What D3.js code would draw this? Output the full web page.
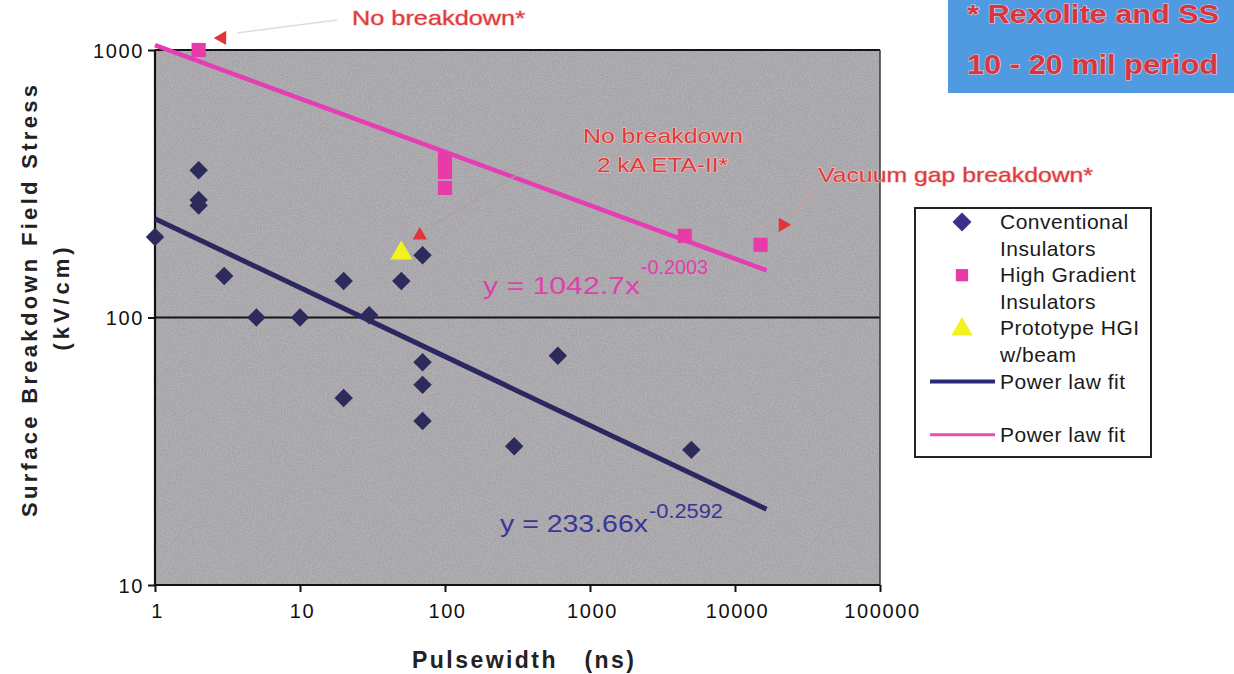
<!DOCTYPE html>
<html>
<head>
<meta charset="utf-8">
<script src="https://cdn.jsdelivr.net/npm/d3@7"></script>
<style>
  body { margin: 0; background: #fff; }
  svg { display: block; font-family: "Liberation Sans", Arial, sans-serif; }
  .tick text { font-size: 20px; letter-spacing: 1.6px; fill: #111; }
  .red { fill: #e03a3c; paint-order: stroke; stroke: #f3c8c8; stroke-width: 1.2px; }
</style>
</head>
<body>
<svg width="1234" height="674"></svg>
<script>
// conventional insulators (diamonds)
var convX = [1, 2, 2, 2, 3, 5, 10, 20, 20, 30, 50, 70, 70, 70, 70, 300, 600, 5000];
var convY = [200, 355, 275, 262, 143, 100, 100, 137, 50, 102, 137, 171, 68, 56, 41, 33, 72, 32];
// high gradient insulators (squares)
var hgX = [2, 100, 100, 100, 4500, 15000];
var hgY = [1000, 390, 350, 305, 202, 187];
// prototype HGI with beam (triangle)
var protoX = [50];
var protoY = [174];
// power law fits, end points
var fitX = [1, 16500];
var fitConvY = [234, 19.2];
var fitHgY = [1043, 150];
// red annotation arrow heads [x, y, rotation]
var arrows = [[2.9, 1110, -90], [67, 203, 0], [21400, 222, 90]];

var xTicks = [1, 10, 100, 1000, 10000, 100000];
var yTicks = [10, 100, 1000];

var svg = d3.select("svg");

var x = d3.scaleLog().domain([1, 100000]).range([155, 880]);
var y = d3.scaleLog().domain([10, 1000]).range([585, 50]);

// grain for the scanned grey background
var defs = svg.append("defs");
var f = defs.append("filter").attr("id", "grain").attr("x", 0).attr("y", 0).attr("width", 1).attr("height", 1);
f.append("feTurbulence").attr("type", "fractalNoise").attr("baseFrequency", "0.8 0.6").attr("numOctaves", 2).attr("seed", 4);
f.append("feColorMatrix").attr("type", "matrix")
  .attr("values", "0 0 0 0 0.64  0 0 0 0 0.63  0 0 0 0 0.65  0 0 0 -1.1 1.05");

// plot area
svg.append("rect")
  .attr("x", x.range()[0]).attr("y", y.range()[1])
  .attr("width", x.range()[1] - x.range()[0]).attr("height", y.range()[0] - y.range()[1])
  .attr("fill", "#9d9b9f");
svg.append("rect")
  .attr("x", x.range()[0]).attr("y", y.range()[1])
  .attr("width", x.range()[1] - x.range()[0]).attr("height", y.range()[0] - y.range()[1])
  .attr("filter", "url(#grain)").attr("opacity", 0.55);

// grid lines + border
svg.append("g").selectAll("line")
  .data(yTicks)
  .enter().append("line")
    .attr("x1", x.range()[0]).attr("x2", x.range()[1])
    .attr("y1", function(d) { return y(d); }).attr("y2", function(d) { return y(d); })
    .attr("stroke", "#141414").attr("stroke-width", 2);
svg.append("line")
  .attr("x1", x.range()[1]).attr("x2", x.range()[1])
  .attr("y1", y.range()[1]).attr("y2", y.range()[0])
  .attr("stroke", "#3a3a3a").attr("stroke-width", 1.5);

// axes
var yAxis = svg.append("g")
  .attr("transform", "translate(" + x.range()[0] + ",0)")
  .call(d3.axisLeft(y).tickValues(yTicks).tickFormat(d3.format("d")).tickSize(7).tickPadding(4));
var xAxis = svg.append("g")
  .attr("transform", "translate(0," + y.range()[0] + ")")
  .call(d3.axisBottom(x).tickValues(xTicks).tickFormat(d3.format("d")).tickSize(7).tickPadding(12));
svg.selectAll(".domain").attr("stroke", "#111").attr("stroke-width", 2.2);
svg.selectAll(".tick line").attr("stroke", "#111").attr("stroke-width", 2);
yAxis.selectAll(".domain").attr("d", "M0," + y.range()[0] + "V" + y.range()[1]);
xAxis.selectAll(".domain").attr("d", "M" + x.range()[0] + ",0H" + x.range()[1]);
yAxis.selectAll(".tick text").attr("dy", "0.36em");
xAxis.selectAll(".tick text").attr("dx", "0.1em");

// fit lines
var line = d3.line()
  .x(function(d) { return x(d[0]); })
  .y(function(d) { return y(d[1]); });
svg.append("path")
  .datum(d3.zip(fitX, fitHgY))
  .attr("d", line).attr("fill", "none")
  .attr("stroke", "#e63cb4").attr("stroke-width", 4.5);
svg.append("path")
  .datum(d3.zip(fitX, fitConvY))
  .attr("d", line).attr("fill", "none")
  .attr("stroke", "#2b2760").attr("stroke-width", 5);

// markers
var diamond = d3.symbol().type(d3.symbolSquare).size(170);
var square = d3.symbol().type(d3.symbolSquare).size(200);
var tri = d3.symbol().type(d3.symbolTriangle).size(210);

svg.append("g").selectAll("path")
  .data(d3.zip(hgX, hgY))
  .enter().append("path")
    .attr("d", square)
    .attr("transform", function(d) { return "translate(" + x(d[0]) + "," + y(d[1]) + ")"; })
    .attr("fill", "#e83aa8");

svg.append("g").selectAll("path")
  .data(d3.zip(convX, convY))
  .enter().append("path")
    .attr("d", diamond)
    .attr("transform", function(d) { return "translate(" + x(d[0]) + "," + y(d[1]) + ") rotate(45)"; })
    .attr("fill", "#2d2a5c");

svg.append("g").selectAll("path")
  .data(d3.zip(protoX, protoY))
  .enter().append("path")
    .attr("d", tri)
    .attr("transform", function(d) { return "translate(" + x(d[0]) + "," + y(d[1]) + ")"; })
    .attr("fill", "#f4f21e");

// annotation leaders + arrow heads
var leaders = [[237, 33, 337, 20, "#d0d0d0"], [815, 188, 792, 216, "#d89a9a"], [522, 172, 432, 226, "#a8a0a0"]];
svg.append("g").selectAll("line")
  .data(leaders)
  .enter().append("line")
    .attr("x1", function(d) { return d[0]; }).attr("y1", function(d) { return d[1]; })
    .attr("x2", function(d) { return d[2]; }).attr("y2", function(d) { return d[3]; })
    .attr("stroke", function(d) { return d[4]; }).attr("stroke-width", 1.5).attr("opacity", 0.7);

svg.append("g").selectAll("path")
  .data(arrows)
  .enter().append("path")
    .attr("d", d3.symbol().type(d3.symbolTriangle).size(90))
    .attr("transform", function(d) { return "translate(" + x(d[0]) + "," + y(d[1]) + ") rotate(" + d[2] + ")"; })
    .attr("fill", "#e0353a");

// annotation texts
function note(txt, px, py, size, len, color) {
  return svg.append("text").attr("x", px).attr("y", py)
    .attr("font-size", size).attr("textLength", len).attr("lengthAdjust", "spacingAndGlyphs")
    .attr("fill", color).text(txt);
}
note("No breakdown*", 352, 25, 21, 173, "#e03a3c").attr("class", "red");
note("No breakdown", 583, 143, 21, 160, "#e83e46").attr("class", "red");
note("2 kA ETA-II*", 597, 172, 21, 131, "#e83e46").attr("class", "red");
note("Vacuum gap breakdown*", 818, 182, 21, 275, "#e03a3c").attr("class", "red");

// equations
note("y  =  1042.7x", 483, 294, 23, 157, "#e23fae");
note("-0.2003", 641, 274, 20, 67, "#e23fae");
note("y  =  233.66x", 500, 532, 23, 148, "#3b3596");
note("-0.2592", 649, 518, 20, 74, "#3b3596");

// blue note box
svg.append("rect").attr("x", 948).attr("y", 0).attr("width", 286).attr("height", 93).attr("fill", "#4f9ae0");
svg.append("text").attr("class", "red").attr("x", 967).attr("y", 23)
  .attr("font-size", 25).attr("font-weight", "bold").attr("textLength", 252)
  .attr("lengthAdjust", "spacingAndGlyphs").style("fill", "#d53642").text("* Rexolite and SS");
svg.append("text").attr("class", "red").attr("x", 967).attr("y", 74)
  .attr("font-size", 27).attr("font-weight", "bold").attr("textLength", 251)
  .attr("lengthAdjust", "spacingAndGlyphs").style("fill", "#d53642").text("10 - 20 mil period");

// axis titles
svg.append("text")
  .attr("transform", "translate(37,301) rotate(-90)")
  .attr("text-anchor", "middle").attr("font-weight", "bold").attr("font-size", 22)
  .attr("textLength", 432).attr("fill", "#222").text("Surface Breakdown Field Stress");
svg.append("text")
  .attr("transform", "translate(69,299) rotate(-90)")
  .attr("text-anchor", "middle").attr("font-weight", "bold").attr("font-size", 22)
  .attr("textLength", 103).attr("fill", "#222").text("(kV/cm)");
svg.append("text")
  .attr("x", 412).attr("y", 668)
  .attr("font-weight", "bold").attr("font-size", 23).attr("fill", "#222")
  .attr("textLength", 222).attr("xml:space", "preserve").text("Pulsewidth   (ns)");

// legend
var legendLabels = [["Conventional", "Insulators"], ["High Gradient", "Insulators"], ["Prototype HGI", "w/beam"], ["Power law fit"], ["Power law fit"]];
var legend = svg.append("g").attr("transform", "translate(915,208)");
legend.append("rect").attr("width", 236).attr("height", 249).attr("fill", "#fff").attr("stroke", "#222").attr("stroke-width", 2);
var row = 26.6, top0 = 14;
var entries = legend.selectAll("g.entry")
  .data(legendLabels)
  .enter().append("g")
    .attr("class", "entry")
    .attr("transform", function(d, i) { return "translate(0," + (top0 + i * 2 * row) + ")"; });
entries.append("text")
  .attr("font-size", 21).attr("fill", "#1a1a1a").attr("letter-spacing", 0.5)
  .selectAll("tspan")
  .data(function(d) { return d; })
  .enter().append("tspan")
    .attr("x", 85).attr("y", function(d, j) { return 7 + j * row; })
    .text(function(d) { return d; });
entries.each(function(d, i) {
  var e = d3.select(this);
  if (i === 0) e.append("path").attr("d", d3.symbol().type(d3.symbolSquare).size(180)()).attr("transform", "translate(47,0) rotate(45)").attr("fill", "#3a2f8a");
  if (i === 1) e.append("path").attr("d", d3.symbol().type(d3.symbolSquare).size(150)()).attr("transform", "translate(47,0)").attr("fill", "#e83aa8");
  if (i === 2) e.append("path").attr("d", d3.symbol().type(d3.symbolTriangle).size(200)()).attr("transform", "translate(47,1)").attr("fill", "#f4f21e");
  if (i === 3) e.append("line").attr("x1", 15).attr("x2", 80).attr("stroke", "#2b2a78").attr("stroke-width", 4);
  if (i === 4) e.append("line").attr("x1", 15).attr("x2", 80).attr("stroke", "#e64cb4").attr("stroke-width", 3);
});
</script>
</body>
</html>
